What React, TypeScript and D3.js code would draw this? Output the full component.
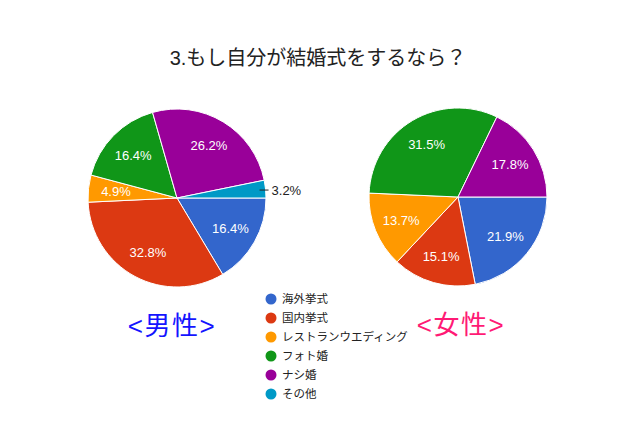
import React from 'react';
import * as d3 from 'd3';

const categories = ['海外挙式', '国内挙式', 'レストランウエディング', 'フォト婚', 'ナシ婚', 'その他'];
const colors = ['#3366cc', '#dc3912', '#ff9900', '#109618', '#990099', '#0099c6'];
const maleValues = [16.4, 32.8, 4.9, 16.4, 26.2, 3.2];
const femaleValues = [21.9, 15.1, 13.7, 31.5, 17.8, 0];
const title = '3.もし自分が結婚式をするなら？';
const maleLabel = '<男性>';
const femaleLabel = '<女性>';

const W = 640;
const H = 427;
const R = 89;
const FONT = "Arial, 'Liberation Sans', 'Noto Sans CJK JP', sans-serif";

type PieProps = { cx: number; cy: number; values: number[] };

const Pie: React.FC<PieProps> = ({ cx, cy, values }) => {
    const pie = d3.pie<number>()
        .sort(null)
        .value(d => d)
        .startAngle(Math.PI / 2)
        .endAngle(Math.PI / 2 + 2 * Math.PI);
    const arcs = pie(values);
    const arc = d3.arc<d3.PieArcDatum<number>>().innerRadius(0).outerRadius(R);
    const labelArc = d3.arc<d3.PieArcDatum<number>>().innerRadius(R * 0.69).outerRadius(R * 0.69);
    const edgeArc = d3.arc<d3.PieArcDatum<number>>().innerRadius(R).outerRadius(R);

    return (
        <g transform={`translate(${cx},${cy})`}>
            {arcs.map((a, i) => a.value > 0 && (
                <path key={i} d={arc(a) ?? ''} fill={colors[i]} stroke="#fff" strokeWidth={1} />
            ))}
            {arcs.map((a, i) => {
                if (a.value <= 0) return null;
                const txt = `${a.value.toFixed(1)}%`;
                if (a.endAngle - a.startAngle < 0.25) {
                    // too thin for an inside label: leader line + outside text
                    const [ex, ey] = edgeArc.centroid(a);
                    return (
                        <g key={`l${i}`}>
                            <line x1={ex - 6} x2={ex + 3} y1={ey + 1} y2={ey + 1} stroke="#222" strokeWidth={1} />
                            <text x={ex + 6} y={ey + 1} dy="0.35em" fontSize={13} fill="#222" fontFamily={FONT}>{txt}</text>
                        </g>
                    );
                }
                const [lx, ly] = labelArc.centroid(a);
                return (
                    <text key={`l${i}`} x={lx} y={ly} dy="0.35em" textAnchor="middle" fontSize={13} fill="#fff" fontFamily={FONT}>{txt}</text>
                );
            })}
        </g>
    );
};

export default function App() {
    const legendY = d3.scalePoint<string>().domain(categories).range([299, 394]);
    return (
        <svg width={W} height={H} style={{ display: 'block', position: 'absolute', left: 0, top: 0, background: '#fff' }}>
            <rect width={W} height={H} fill="#fff" />
            <text x={318} y={58} dy="0.35em" textAnchor="middle" fontSize={20} fill="#222" fontFamily={FONT}>{title}</text>
            <Pie cx={177} cy={198} values={maleValues} />
            <Pie cx={458} cy={197} values={femaleValues} />
            <g>
                {categories.map((c, i) => (
                    <g key={c} transform={`translate(271,${legendY(c)})`}>
                        <circle r={5.5} fill={colors[i]} />
                        <text x={11} dy="0.35em" fontSize={11.5} fill="#222" fontFamily={FONT}>{c}</text>
                    </g>
                ))}
            </g>
            <text x={172} y={326} dy="0.35em" textAnchor="middle" fontSize={26} letterSpacing={1.5} fill="#1414ff" fontFamily={FONT}>{maleLabel}</text>
            <text x={461} y={325} dy="0.35em" textAnchor="middle" fontSize={26} letterSpacing={1.5} fill="#ff1a75" fontFamily={FONT}>{femaleLabel}</text>
        </svg>
    );
}
